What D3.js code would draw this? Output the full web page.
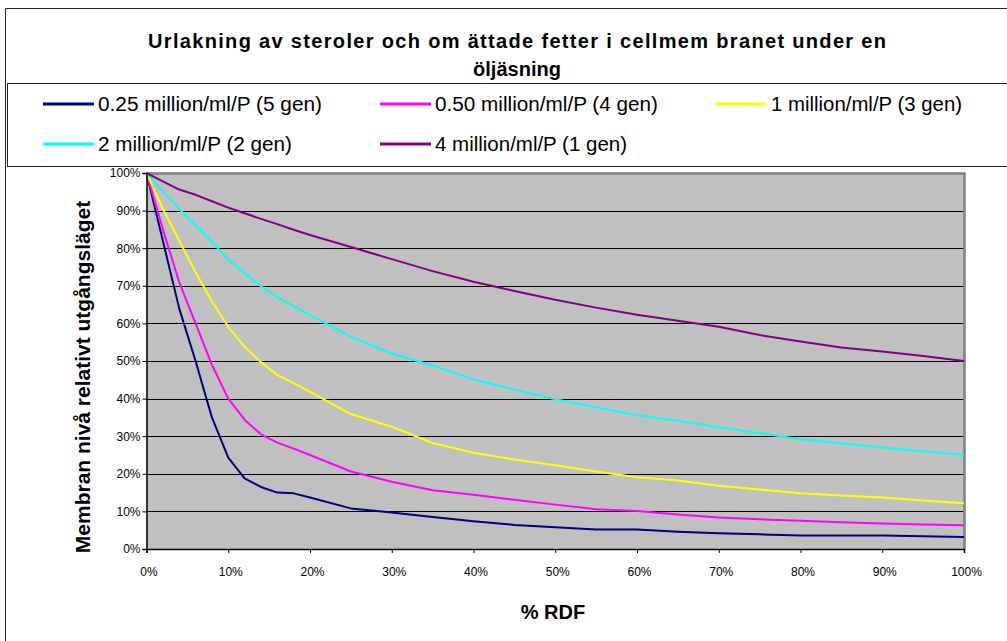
<!DOCTYPE html>
<html>
<head>
<meta charset="utf-8">
<script src="https://cdn.jsdelivr.net/npm/d3@7"></script>
<style>
  body { margin: 0; background: #fff; }
  svg { display: block; font-family: "Liberation Sans", Arial, sans-serif; }
</style>
</head>
<body>
<div id="chart"></div>
<script>
// % RDF (x values)
const rdf = [0, 2, 4, 6, 8, 10, 12, 14, 16, 18, 20, 25, 30, 35, 40, 45, 50, 55, 60, 65, 70, 75, 80, 85, 90, 95, 100];

// membrane level relative to start, in %
const gen5 = [100, 82, 64, 50, 35, 24.3, 18.8, 16.5, 15, 14.8, 13.7, 10.8, 9.7, 8.5, 7.4, 6.4, 5.8, 5.2, 5.2, 4.6, 4.2, 3.9, 3.6, 3.6, 3.6, 3.4, 3.2];
const gen4 = [100, 85, 71, 60, 49, 40, 34.4, 30.5, 28.3, 26.7, 25, 20.6, 17.9, 15.6, 14.4, 13.1, 11.8, 10.6, 10.1, 9.2, 8.4, 7.9, 7.5, 7.1, 6.8, 6.5, 6.3];
const gen3 = [100, 90.5, 82, 73.6, 65.9, 59.1, 53.8, 49.7, 46.3, 44.1, 41.8, 35.9, 32.5, 28.2, 25.6, 23.8, 22.3, 20.6, 19.1, 18.2, 16.8, 15.8, 14.8, 14.2, 13.7, 12.9, 12.2];
const gen2 = [100, 95.2, 90.4, 86.1, 81.7, 77, 73.4, 69.9, 67, 64.6, 62.2, 56.5, 52, 48.8, 45.1, 42.4, 39.8, 37.7, 35.6, 34.1, 32.4, 30.8, 29.2, 28.1, 27, 26, 25];
const gen1 = [100, 97.8, 95.6, 94.2, 92.5, 90.8, 89.3, 87.8, 86.4, 84.9, 83.5, 80.3, 77.1, 73.9, 71.1, 68.6, 66.3, 64.2, 62.3, 60.7, 59.1, 56.9, 55.2, 53.6, 52.5, 51.3, 50];

const seriesNames = [
  "0.25 million/ml/P (5 gen)",
  "0.50 million/ml/P (4 gen)",
  "1 million/ml/P (3 gen)",
  "2 million/ml/P (2 gen)",
  "4 million/ml/P (1 gen)"
];
const seriesValues = [gen5, gen4, gen3, gen2, gen1];
const seriesColors = ["#000080", "#FF00FF", "#FFFF00", "#00FFFF", "#800080"];

const xTicks = [0, 10, 20, 30, 40, 50, 60, 70, 80, 90, 100];
const yTicks = [0, 10, 20, 30, 40, 50, 60, 70, 80, 90, 100];

const titleLines = ["Urlakning av steroler och om ättade fetter i cellmem branet under en", "öljäsning"];
const xTitle = "% RDF";
const yTitle = "Membran nivå relativt utgångsläget";

const width = 1007, height = 641;

const svg = d3.select("#chart").append("svg")
  .attr("width", width)
  .attr("height", height);

// outer chart frame
svg.append("path")
  .attr("d", "M5.5," + height + " V8.5 H" + width)
  .attr("fill", "none")
  .attr("stroke", "#222")
  .attr("stroke-width", 1);

// title
svg.append("text")
  .attr("x", 517).attr("y", 48)
  .attr("text-anchor", "middle")
  .attr("font-weight", "bold")
  .attr("font-size", 20)
  .attr("textLength", 738)
  .attr("lengthAdjust", "spacing")
  .text(titleLines[0]);
svg.append("text")
  .attr("x", 517).attr("y", 76)
  .attr("text-anchor", "middle")
  .attr("font-weight", "bold")
  .attr("font-size", 20)
  .text(titleLines[1]);

// legend
svg.append("rect")
  .attr("x", 7.5).attr("y", 83.5)
  .attr("width", 1010).attr("height", 83)
  .attr("fill", "#fff")
  .attr("stroke", "#222");

const legendCols = [43, 380, 716];
const legendRows = [104, 144];
const legendWidths = [224, 223, 191, 194, 192];

seriesNames.forEach((name, i) => {
  const lx = legendCols[i % 3];
  const ly = legendRows[Math.floor(i / 3)];
  const g = svg.append("g");
  g.append("line")
    .attr("x1", lx).attr("x2", lx + 51)
    .attr("y1", ly).attr("y2", ly)
    .attr("stroke", seriesColors[i])
    .attr("stroke-width", 3);
  g.append("text")
    .attr("x", lx + 55).attr("y", ly + 7)
    .attr("font-size", 20)
    .attr("textLength", legendWidths[i])
    .attr("lengthAdjust", "spacingAndGlyphs")
    .text(name);
});

// plot area
const x = d3.scaleLinear().domain([0, 100]).range([146.5, 964]);
const y = d3.scaleLinear().domain([0, 100]).range([549, 173]);

svg.append("rect")
  .attr("x", x(0)).attr("y", y(100))
  .attr("width", x(100) - x(0))
  .attr("height", y(0) - y(100))
  .attr("fill", "#C0C0C0");

// gridlines
svg.append("g")
  .selectAll("line")
  .data(yTicks.filter(d => d > 0 && d < 100))
  .join("line")
  .attr("x1", x(0)).attr("x2", x(100))
  .attr("y1", d => Math.round(y(d)) + 0.5)
  .attr("y2", d => Math.round(y(d)) + 0.5)
  .attr("stroke", "#000")
  .attr("stroke-width", 1.2);

// plot border (top and right)
svg.append("path")
  .attr("d", "M" + x(0) + "," + (y(100) + 0.5) + " H" + (x(100) + 0.5) + " V" + y(0))
  .attr("fill", "none")
  .attr("stroke", "#808080")
  .attr("stroke-width", 2.5);

// series
const line = d3.line()
  .x(d => x(d[0]))
  .y(d => y(d[1]));

svg.append("g")
  .selectAll("path")
  .data(seriesValues)
  .join("path")
  .attr("d", vals => line(rdf.map((r, i) => [r, vals[i]])))
  .attr("fill", "none")
  .attr("stroke", (d, i) => seriesColors[i])
  .attr("stroke-width", 2)
  .attr("stroke-linejoin", "round");

// axes
const yAxis = svg.append("g")
  .attr("transform", "translate(" + x(0) + ",0)")
  .call(d3.axisLeft(y).tickValues(yTicks).tickFormat(d => d + "%").tickSize(4).tickPadding(2));
const xAxis = svg.append("g")
  .attr("transform", "translate(0," + y(0) + ")")
  .call(d3.axisBottom(x).tickValues(xTicks).tickFormat(d => d + "%").tickSize(4).tickPadding(14));

[yAxis, xAxis].forEach(a => {
  a.select(".domain").attr("stroke", "#000").attr("stroke-width", 1.5);
  a.selectAll(".tick line").attr("stroke", "#000");
  a.selectAll("text")
    .attr("font-family", "'Liberation Sans', Arial, sans-serif")
    .attr("font-size", 12)
    .attr("fill", "#000");
});
xAxis.selectAll("text").attr("dx", 2);

// axis titles
svg.append("text")
  .attr("transform", "translate(90,377) rotate(-90)")
  .attr("text-anchor", "middle")
  .attr("font-weight", "bold")
  .attr("font-size", 21)
  .text(yTitle);

svg.append("text")
  .attr("x", 553).attr("y", 619)
  .attr("text-anchor", "middle")
  .attr("font-weight", "bold")
  .attr("font-size", 20)
  .text(xTitle);
</script>
</body>
</html>
